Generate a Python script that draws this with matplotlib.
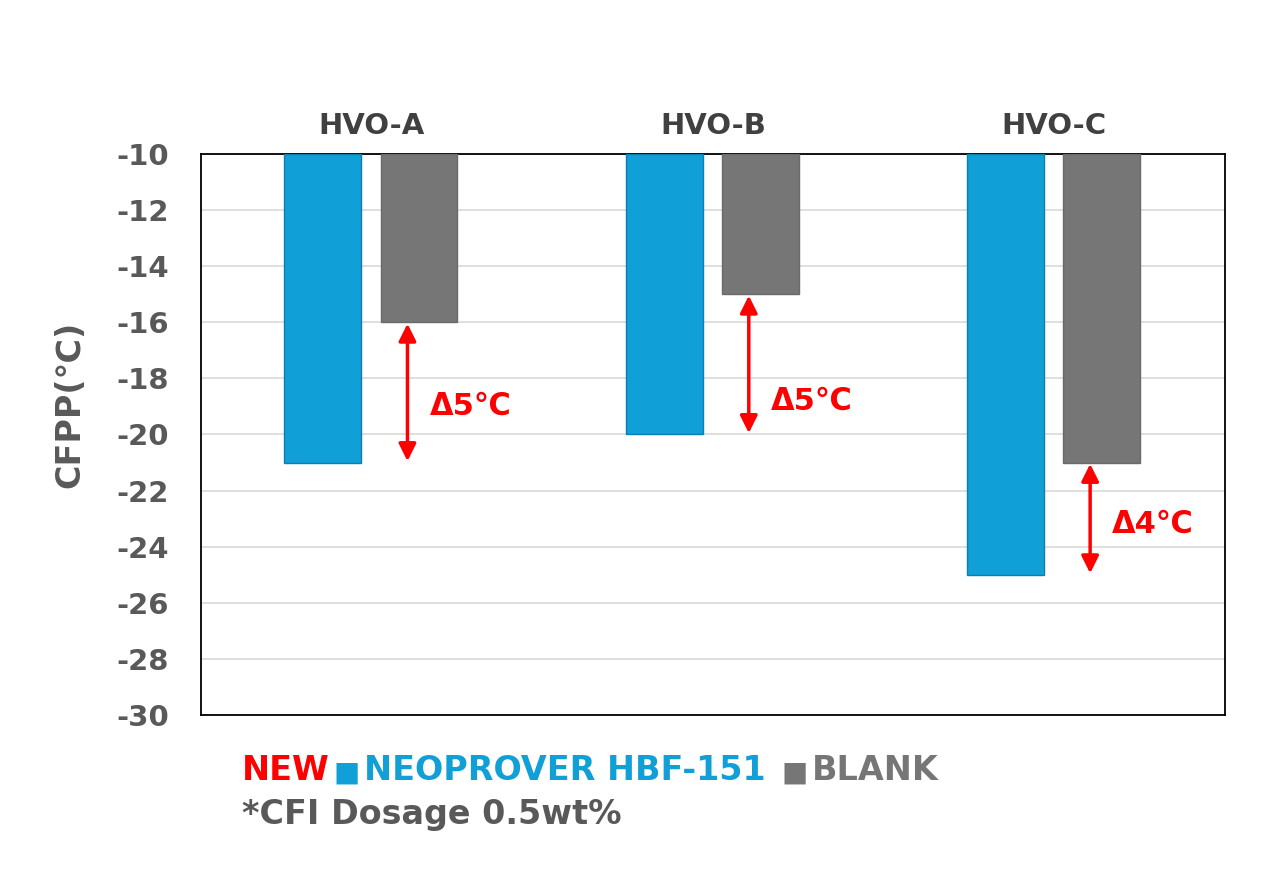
import matplotlib.pyplot as plt
import numpy as np
from matplotlib.offsetbox import TextArea, HPacker, VPacker, AnchoredOffsetbox

plt.rcParams['font.family'] = ['DejaVu Sans', 'Noto Sans CJK JP']
plt.rcParams['axes.unicode_minus'] = False

categories = ["HVO-A", "HVO-B", "HVO-C"]
neoprover = [-21, -20, -25]
blank = [-16, -15, -21]
deltas = ["Δ5℃", "Δ5℃", "Δ4℃"]
label_y = [-19, -18.8, -23.2]

blue = "#119FD7"
grey = "#767676"
dark = "#595959"
red = "#FF0000"

fig = plt.figure(figsize=(12.8, 8.74), dpi=100)
ax = fig.add_axes([0.157, 0.182, 0.8, 0.6418])

x = np.arange(len(categories)) + 0.5
w = 0.225
base = -10

ax.bar(x - 0.143, np.array(neoprover) - base, w, bottom=base, color=blue,
       edgecolor="#0B7FB0", linewidth=1, zorder=3)
ax.bar(x + 0.139, np.array(blank) - base, w, bottom=base, color=grey,
       edgecolor="#6A6A6A", linewidth=1, zorder=3)

for i in range(len(categories)):
    ax_x = x[i] + 0.105
    ax.annotate("", xy=(ax_x, neoprover[i]), xytext=(ax_x, blank[i]),
                arrowprops=dict(arrowstyle="<|-|>", color=red, lw=2.5,
                                mutation_scale=26, shrinkA=1, shrinkB=1), zorder=4)
    ax.text(x[i] + 0.17, label_y[i], deltas[i], color=red, fontsize=22,
            fontweight="bold", ha="left", va="center", zorder=4)
    ax.text(x[i], -9.3, categories[i], color="#404040", fontsize=21,
            fontweight="bold", ha="center", va="baseline")

ax.set_xlim(0, 3)
ax.set_ylim(-30, -10)
ax.set_yticks(np.arange(-30, -9, 2))
ax.set_xticks([])
ax.tick_params(axis="y", length=0, labelsize=21, labelcolor=dark, pad=23)
for lab in ax.get_yticklabels():
    lab.set_fontweight("bold")
ax.grid(axis="y", color="#D9D9D9", linewidth=1.2, zorder=0)
for s in ax.spines.values():
    s.set_color("black")
    s.set_linewidth(1.3)
ax.set_ylabel("CFPP(℃)", fontsize=24, fontweight="bold", color=dark, va="center")
ax.yaxis.set_label_coords(-0.128, 0.553)

fs = 24
parts = [("NEW", red, fs), ("■", blue, 20), ("NEOPROVER HBF-151 ", blue, fs),
         ("■", grey, 20), ("BLANK", grey, fs)]
row = HPacker(children=[TextArea(t, textprops=dict(color=c, fontsize=f, fontweight="bold"))
                        for t, c, f in parts], sep=3, pad=0, align="baseline")
note = TextArea("*CFI Dosage 0.5wt%", textprops=dict(color=dark, fontsize=fs, fontweight="bold"))
box = VPacker(children=[row, note], sep=8, pad=0, align="left")
ab = AnchoredOffsetbox(loc="upper left", child=box, frameon=False, pad=0,
                       bbox_to_anchor=(0.189, 0.137), bbox_transform=fig.transFigure, borderpad=0)
fig.add_artist(ab)

fig.savefig("out.png", dpi=100)
